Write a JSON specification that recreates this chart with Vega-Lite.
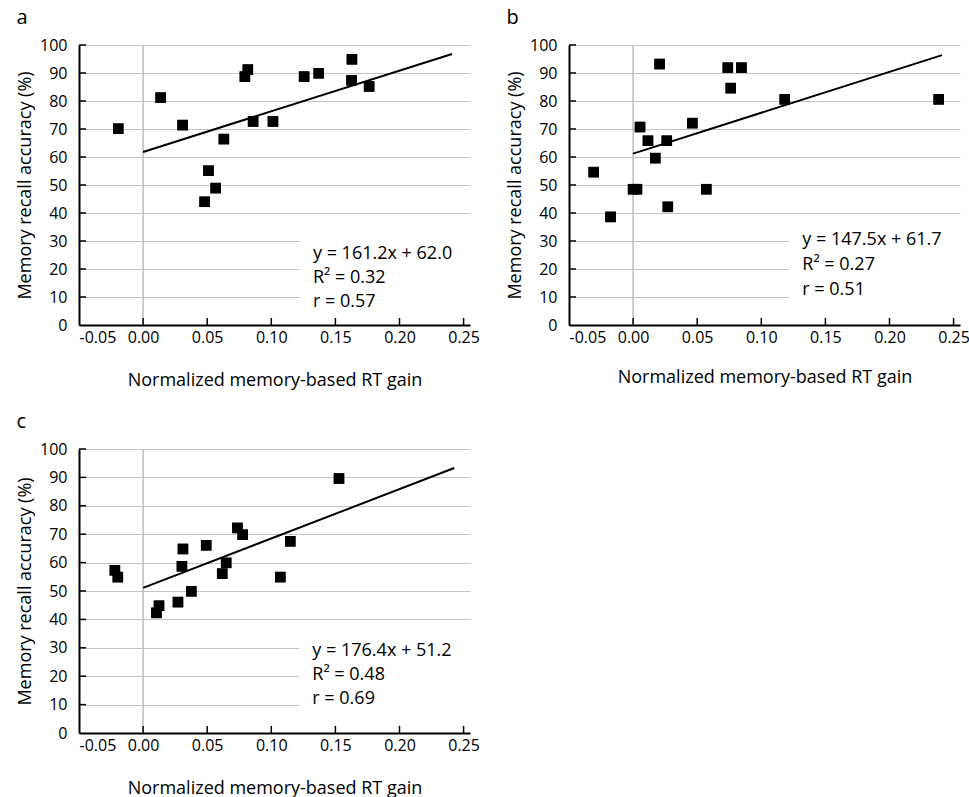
{
  "$schema": "https://vega.github.io/schema/vega-lite/v6.json",
  "padding": {"left": 16, "top": 8, "right": 0, "bottom": 0},
  "background": "white",
  "config": {
    "font": "Open Sans",
    "view": {"stroke": null},
    "axis": {
      "labelFont": "Open Sans", "labelFontSize": 16, "labelColor": "black",
      "titleFont": "Open Sans", "titleFontSize": 18, "titleFontWeight": "normal", "titleColor": "black",
      "domainColor": "black", "domainWidth": 2, "labelOverlap": false, "tickSize": 0
    },
    "title": {"fontSize": 20, "fontWeight": "normal", "anchor": "start", "frame": "bounds", "color": "black", "font": "Open Sans", "offset": 9}
  },
  "datasets": {
    "one": [{"k": 1}],
    "yticks": [{"v": 10}, {"v": 20}, {"v": 30}, {"v": 40}, {"v": 50}, {"v": 60}, {"v": 70}, {"v": 80}, {"v": 90}, {"v": 100}],
    "xticks": [{"v": 0}, {"v": 0.05}, {"v": 0.1}, {"v": 0.15}, {"v": 0.2}, {"v": 0.25}],
    "pointsA": [
      {"gain": -0.0194, "acc": 70.1}, {"gain": 0.0137, "acc": 81.2}, {"gain": 0.0308, "acc": 71.4},
      {"gain": 0.048, "acc": 44.0}, {"gain": 0.051, "acc": 55.1}, {"gain": 0.0566, "acc": 48.9},
      {"gain": 0.063, "acc": 66.4}, {"gain": 0.0794, "acc": 88.7}, {"gain": 0.0817, "acc": 91.2},
      {"gain": 0.0858, "acc": 72.7}, {"gain": 0.1013, "acc": 72.7}, {"gain": 0.1256, "acc": 88.7},
      {"gain": 0.137, "acc": 89.9}, {"gain": 0.1629, "acc": 94.9}, {"gain": 0.1626, "acc": 87.4},
      {"gain": 0.1763, "acc": 85.2}
    ],
    "pointsB": [
      {"gain": -0.0307, "acc": 54.6}, {"gain": -0.0176, "acc": 38.6}, {"gain": 0.0, "acc": 48.5},
      {"gain": 0.003, "acc": 48.5}, {"gain": 0.0054, "acc": 70.7}, {"gain": 0.0116, "acc": 65.8},
      {"gain": 0.0173, "acc": 59.6}, {"gain": 0.0207, "acc": 93.2}, {"gain": 0.0263, "acc": 65.8},
      {"gain": 0.0271, "acc": 42.2}, {"gain": 0.0462, "acc": 72.1}, {"gain": 0.0571, "acc": 48.5},
      {"gain": 0.0739, "acc": 91.9}, {"gain": 0.0762, "acc": 84.6}, {"gain": 0.0845, "acc": 91.9},
      {"gain": 0.1183, "acc": 80.6}, {"gain": 0.2384, "acc": 80.6}
    ],
    "pointsC": [
      {"gain": -0.022, "acc": 57.3}, {"gain": -0.0197, "acc": 54.9}, {"gain": 0.0104, "acc": 42.3},
      {"gain": 0.0124, "acc": 44.8}, {"gain": 0.0272, "acc": 46.1}, {"gain": 0.0303, "acc": 58.7},
      {"gain": 0.0311, "acc": 64.8}, {"gain": 0.0376, "acc": 49.9}, {"gain": 0.0492, "acc": 66.1},
      {"gain": 0.0617, "acc": 56.1}, {"gain": 0.0648, "acc": 59.9}, {"gain": 0.0736, "acc": 72.2},
      {"gain": 0.0777, "acc": 69.8}, {"gain": 0.107, "acc": 54.9}, {"gain": 0.1148, "acc": 67.5},
      {"gain": 0.1528, "acc": 89.6}
    ],
    "lineA": [{"gain": 0.0, "acc": 61.8}, {"gain": 0.241, "acc": 96.8}],
    "lineB": [{"gain": 0.0, "acc": 61.2}, {"gain": 0.241, "acc": 96.4}],
    "lineC": [{"gain": 0.0, "acc": 51.1}, {"gain": 0.2427, "acc": 93.3}]
  },
  "vconcat": [
    {
      "hconcat": [
        {
          "title": "a",
          "width": 391, "height": 280,
          "layer": [
            {"data": {"name": "pointsA"}, "mark": {"type": "point", "shape": "square", "filled": true, "color": "black", "size": 110, "opacity": 1},
             "encoding": {
               "x": {"field": "gain", "type": "quantitative", "title": "Normalized memory-based RT gain", "scale": {"domain": [-0.05, 0.255], "nice": false, "zero": false}, "axis": {"values": [-0.05, 0, 0.05, 0.1, 0.15, 0.2, 0.25], "tickCount": 20, "labelExpr": "datum.value < 0 ? '-' + format(-datum.value, '.2f') : format(datum.value, '.2f')", "grid": false, "labelPadding": 4, "titlePadding": 26}},
               "y": {"field": "acc", "type": "quantitative", "title": "Memory recall accuracy (%)", "scale": {"domain": [0, 100], "nice": false}, "axis": {"values": [0, 10, 20, 30, 40, 50, 60, 70, 80, 90, 100], "tickCount": 20, "grid": true, "gridColor": "#c4c4c4", "gridWidth": 1.2, "labelPadding": 12, "titlePadding": 5}}
             }},
            {"data": {"name": "one"}, "mark": {"type": "rule", "color": "#bdbdbd", "strokeWidth": 1.5}, "encoding": {"x": {"datum": 0, "type": "quantitative"}}},
            {"data": {"name": "one"}, "mark": {"type": "rect", "color": "white"}, "encoding": {"x": {"datum": 0.1222, "type": "quantitative"}, "x2": {"datum": 0.26}, "y": {"datum": 4, "type": "quantitative"}, "y2": {"datum": 36}}},
            {"data": {"name": "yticks"}, "mark": {"type": "rule", "color": "black", "strokeWidth": 1.5}, "encoding": {"y": {"field": "v", "type": "quantitative"}, "x": {"datum": -0.05, "type": "quantitative"}, "x2": {"datum": -0.0445}}},
            {"data": {"name": "xticks"}, "mark": {"type": "rule", "color": "black", "strokeWidth": 1.5}, "encoding": {"x": {"field": "v", "type": "quantitative"}, "y": {"datum": 0, "type": "quantitative"}, "y2": {"datum": 2.5}}},
            {"data": {"name": "lineA"}, "mark": {"type": "line", "color": "black", "strokeWidth": 2}, "encoding": {"x": {"field": "gain", "type": "quantitative"}, "y": {"field": "acc", "type": "quantitative"}}},
            {"data": {"name": "pointsA"}, "mark": {"type": "point", "shape": "square", "filled": true, "color": "black", "size": 110, "opacity": 1},
             "encoding": {"x": {"field": "gain", "type": "quantitative"}, "y": {"field": "acc", "type": "quantitative"}}},
            {"data": {"name": "one"}, "mark": {"type": "text", "text": ["y = 161.2x + 62.0", "R² = 0.32", "r = 0.57"], "align": "left", "baseline": "middle", "fontSize": 18, "lineHeight": 24, "font": "Open Sans", "color": "black"},
             "encoding": {"x": {"datum": 0.1325, "type": "quantitative"}, "y": {"datum": 25.3, "type": "quantitative"}}}
          ]
        },
        {
          "title": "b",
          "width": 391, "height": 280,
          "layer": [
            {"data": {"name": "pointsB"}, "mark": {"type": "point", "shape": "square", "filled": true, "color": "black", "size": 110, "opacity": 1},
             "encoding": {
               "x": {"field": "gain", "type": "quantitative", "title": "Normalized memory-based RT gain", "scale": {"domain": [-0.05, 0.255], "nice": false, "zero": false}, "axis": {"values": [-0.05, 0, 0.05, 0.1, 0.15, 0.2, 0.25], "tickCount": 20, "labelExpr": "datum.value < 0 ? '-' + format(-datum.value, '.2f') : format(datum.value, '.2f')", "grid": false, "labelPadding": 4, "titlePadding": 23}},
               "y": {"field": "acc", "type": "quantitative", "title": "Memory recall accuracy (%)", "scale": {"domain": [0, 100], "nice": false}, "axis": {"values": [0, 10, 20, 30, 40, 50, 60, 70, 80, 90, 100], "tickCount": 20, "grid": true, "gridColor": "#c4c4c4", "gridWidth": 1.2, "labelPadding": 12, "titlePadding": 5}}
             }},
            {"data": {"name": "one"}, "mark": {"type": "rule", "color": "#bdbdbd", "strokeWidth": 1.5}, "encoding": {"x": {"datum": 0, "type": "quantitative"}}},
            {"data": {"name": "one"}, "mark": {"type": "rect", "color": "white"}, "encoding": {"x": {"datum": 0.1216, "type": "quantitative"}, "x2": {"datum": 0.26}, "y": {"datum": 4, "type": "quantitative"}, "y2": {"datum": 36}}},
            {"data": {"name": "yticks"}, "mark": {"type": "rule", "color": "black", "strokeWidth": 1.5}, "encoding": {"y": {"field": "v", "type": "quantitative"}, "x": {"datum": -0.05, "type": "quantitative"}, "x2": {"datum": -0.0445}}},
            {"data": {"name": "xticks"}, "mark": {"type": "rule", "color": "black", "strokeWidth": 1.5}, "encoding": {"x": {"field": "v", "type": "quantitative"}, "y": {"datum": 0, "type": "quantitative"}, "y2": {"datum": 2.5}}},
            {"data": {"name": "lineB"}, "mark": {"type": "line", "color": "black", "strokeWidth": 2}, "encoding": {"x": {"field": "gain", "type": "quantitative"}, "y": {"field": "acc", "type": "quantitative"}}},
            {"data": {"name": "pointsB"}, "mark": {"type": "point", "shape": "square", "filled": true, "color": "black", "size": 110, "opacity": 1},
             "encoding": {"x": {"field": "gain", "type": "quantitative"}, "y": {"field": "acc", "type": "quantitative"}}},
            {"data": {"name": "one"}, "mark": {"type": "text", "text": ["y = 147.5x + 61.7", "R² = 0.27", "r = 0.51"], "align": "left", "baseline": "middle", "fontSize": 18, "lineHeight": 25, "font": "Open Sans", "color": "black"},
             "encoding": {"x": {"datum": 0.132, "type": "quantitative"}, "y": {"datum": 30.2, "type": "quantitative"}}}
          ]
        }
      ],
      "spacing": 26
    },
    {
      "title": "c",
      "width": 391, "height": 284,
      "layer": [
        {"data": {"name": "pointsC"}, "mark": {"type": "point", "shape": "square", "filled": true, "color": "black", "size": 110, "opacity": 1},
         "encoding": {
           "x": {"field": "gain", "type": "quantitative", "title": "Normalized memory-based RT gain", "scale": {"domain": [-0.05, 0.255], "nice": false, "zero": false}, "axis": {"values": [-0.05, 0, 0.05, 0.1, 0.15, 0.2, 0.25], "tickCount": 20, "labelExpr": "datum.value < 0 ? '-' + format(-datum.value, '.2f') : format(datum.value, '.2f')", "grid": false, "labelPadding": 4, "titlePadding": 26}},
           "y": {"field": "acc", "type": "quantitative", "title": "Memory recall accuracy (%)", "scale": {"domain": [0, 100], "nice": false}, "axis": {"values": [0, 10, 20, 30, 40, 50, 60, 70, 80, 90, 100], "tickCount": 20, "grid": true, "gridColor": "#c4c4c4", "gridWidth": 1.2, "labelPadding": 12, "titlePadding": 5}}
         }},
        {"data": {"name": "one"}, "mark": {"type": "rule", "color": "#bdbdbd", "strokeWidth": 1.5}, "encoding": {"x": {"datum": 0, "type": "quantitative"}}},
        {"data": {"name": "one"}, "mark": {"type": "rect", "color": "white"}, "encoding": {"x": {"datum": 0.1218, "type": "quantitative"}, "x2": {"datum": 0.26}, "y": {"datum": 4, "type": "quantitative"}, "y2": {"datum": 36}}},
        {"data": {"name": "yticks"}, "mark": {"type": "rule", "color": "black", "strokeWidth": 1.5}, "encoding": {"y": {"field": "v", "type": "quantitative"}, "x": {"datum": -0.05, "type": "quantitative"}, "x2": {"datum": -0.0445}}},
        {"data": {"name": "xticks"}, "mark": {"type": "rule", "color": "black", "strokeWidth": 1.5}, "encoding": {"x": {"field": "v", "type": "quantitative"}, "y": {"datum": 0, "type": "quantitative"}, "y2": {"datum": 2.5}}},
        {"data": {"name": "lineC"}, "mark": {"type": "line", "color": "black", "strokeWidth": 2}, "encoding": {"x": {"field": "gain", "type": "quantitative"}, "y": {"field": "acc", "type": "quantitative"}}},
        {"data": {"name": "pointsC"}, "mark": {"type": "point", "shape": "square", "filled": true, "color": "black", "size": 110, "opacity": 1},
         "encoding": {"x": {"field": "gain", "type": "quantitative"}, "y": {"field": "acc", "type": "quantitative"}}},
        {"data": {"name": "one"}, "mark": {"type": "text", "text": ["y = 176.4x + 51.2", "R² = 0.48", "r = 0.69"], "align": "left", "baseline": "middle", "fontSize": 18, "lineHeight": 24, "font": "Open Sans", "color": "black"},
         "encoding": {"x": {"datum": 0.132, "type": "quantitative"}, "y": {"datum": 28.8, "type": "quantitative"}}}
      ]
    }
  ],
  "spacing": 23
}
